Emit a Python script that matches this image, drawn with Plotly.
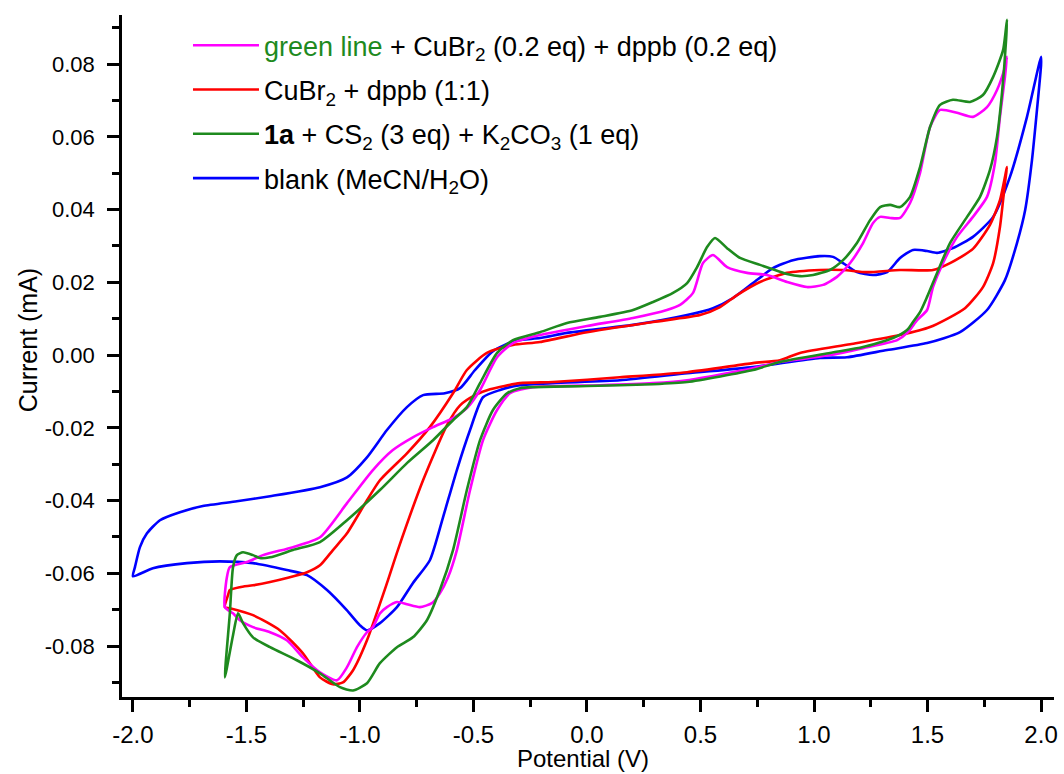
import plotly.graph_objects as go

# ---- data (Potential in V, Current in mA) ----
mix_v = [-1.595, -1.586, -1.573, -1.498, -1.427, -1.295, -1.176, -1.057, -0.943, -0.855, -0.767, -0.678, -0.590, -0.529, -0.471, -0.396, -0.326, -0.207, 0.000, 0.203, 0.352, 0.410, 0.467, 0.511, 0.555, 0.617, 0.705, 0.793, 0.881, 0.969, 1.040, 1.101, 1.159, 1.216, 1.260, 1.291, 1.335, 1.379, 1.423, 1.467, 1.511, 1.555, 1.630, 1.700, 1.762, 1.806, 1.841, 1.850,
         1.841, 1.819, 1.797, 1.762, 1.700, 1.630, 1.568, 1.524, 1.498, 1.454, 1.414, 1.366, 1.216, 1.070, 0.850, 0.731, 0.441, 0.291, 0.057, -0.238, -0.339, -0.396, -0.458, -0.515, -0.573, -0.612, -0.648, -0.683, -0.736, -0.793, -0.837, -0.881, -0.912, -0.943, -0.969, -1.013, -1.057, -1.101, -1.176, -1.251, -1.322, -1.396, -1.471, -1.529, -1.559, -1.595]
mix_i = [-0.0693, -0.0611, -0.0583, -0.0569, -0.0550, -0.0528, -0.0501, -0.0407, -0.0316, -0.0261, -0.0226, -0.0198, -0.0173, -0.0146, -0.0096, -0.0006, 0.0033, 0.0055, 0.0080, 0.0102, 0.0124, 0.0138, 0.0171, 0.0253, 0.0275, 0.0242, 0.0226, 0.0220, 0.0201, 0.0187, 0.0193, 0.0215, 0.0253, 0.0308, 0.0363, 0.0380, 0.0377, 0.0377, 0.0418, 0.0501, 0.0627, 0.0674, 0.0666, 0.0655, 0.0682, 0.0729, 0.0792, 0.0820,
         0.0765, 0.0655, 0.0528, 0.0435, 0.0380, 0.0325, 0.0253, 0.0187, 0.0124, 0.0096, 0.0063, 0.0041, 0.0019, 0.0000, -0.0019, -0.0036, -0.0069, -0.0077, -0.0083, -0.0088, -0.0105, -0.0151, -0.0234, -0.0371, -0.0536, -0.0611, -0.0655, -0.0682, -0.0693, -0.0685, -0.0679, -0.0693, -0.0710, -0.0748, -0.0762, -0.0803, -0.0858, -0.0894, -0.0872, -0.0831, -0.0784, -0.0762, -0.0748, -0.0729, -0.0710, -0.0693]

cu_v = [-1.595, -1.581, -1.573, -1.529, -1.471, -1.396, -1.322, -1.233, -1.176, -1.119, -1.057, -0.969, -0.912, -0.793, -0.692, -0.590, -0.529, -0.441, -0.326, -0.207, 0.000, 0.291, 0.498, 0.586, 0.661, 0.762, 0.881, 1.026, 1.128, 1.233, 1.379, 1.524, 1.599, 1.700, 1.775, 1.819, 1.850,
        1.841, 1.819, 1.789, 1.744, 1.665, 1.511, 1.379, 1.159, 0.938, 0.850, 0.731, 0.441, 0.145, -0.150, -0.295, -0.427, -0.493, -0.559, -0.617, -0.722, -0.833, -0.881, -0.969, -1.031, -1.075, -1.119, -1.176, -1.251, -1.352, -1.471, -1.573, -1.595]
cu_i = [-0.0693, -0.0660, -0.0646, -0.0638, -0.0633, -0.0624, -0.0613, -0.0597, -0.0578, -0.0536, -0.0490, -0.0399, -0.0344, -0.0270, -0.0198, -0.0105, -0.0041, 0.0006, 0.0028, 0.0036, 0.0063, 0.0091, 0.0110, 0.0132, 0.0165, 0.0201, 0.0226, 0.0234, 0.0234, 0.0228, 0.0234, 0.0234, 0.0253, 0.0292, 0.0358, 0.0426, 0.0517,
        0.0473, 0.0352, 0.0253, 0.0187, 0.0129, 0.0077, 0.0055, 0.0030, 0.0006, -0.0014, -0.0022, -0.0047, -0.0061, -0.0074, -0.0077, -0.0094, -0.0110, -0.0138, -0.0193, -0.0344, -0.0536, -0.0627, -0.0784, -0.0867, -0.0900, -0.0905, -0.0886, -0.0820, -0.0757, -0.0715, -0.0696, -0.0693]

sub_v = [-1.595, -1.573, -1.559, -1.542, -1.515, -1.471, -1.441, -1.396, -1.295, -1.176, -1.057, -0.912, -0.793, -0.678, -0.590, -0.529, -0.471, -0.396, -0.326, -0.207, -0.088, 0.057, 0.203, 0.291, 0.379, 0.441, 0.485, 0.529, 0.564, 0.617, 0.674, 0.762, 0.881, 0.938, 0.996, 1.070, 1.128, 1.189, 1.247, 1.291, 1.335, 1.379, 1.423, 1.467, 1.511, 1.555, 1.612, 1.687, 1.744, 1.789, 1.833, 1.850,
         1.846, 1.828, 1.806, 1.775, 1.731, 1.674, 1.599, 1.542, 1.498, 1.467, 1.436, 1.410, 1.348, 1.216, 1.070, 0.850, 0.731, 0.441, 0.291, 0.000, -0.238, -0.295, -0.352, -0.414, -0.471, -0.529, -0.590, -0.648, -0.705, -0.767, -0.837, -0.912, -0.969, -1.031, -1.088, -1.176, -1.278, -1.396, -1.471, -1.515, -1.537, -1.559, -1.595]
sub_i = [-0.0886, -0.0710, -0.0583, -0.0550, -0.0542, -0.0550, -0.0558, -0.0556, -0.0536, -0.0514, -0.0454, -0.0371, -0.0297, -0.0234, -0.0179, -0.0143, -0.0077, 0.0006, 0.0041, 0.0063, 0.0088, 0.0105, 0.0124, 0.0146, 0.0171, 0.0198, 0.0242, 0.0297, 0.0322, 0.0294, 0.0267, 0.0248, 0.0223, 0.0217, 0.0220, 0.0234, 0.0261, 0.0308, 0.0371, 0.0407, 0.0413, 0.0407, 0.0435, 0.0517, 0.0627, 0.0688, 0.0702, 0.0696, 0.0715, 0.0765, 0.0839, 0.0922,
         0.0867, 0.0721, 0.0600, 0.0509, 0.0435, 0.0380, 0.0308, 0.0226, 0.0160, 0.0118, 0.0091, 0.0069, 0.0047, 0.0022, 0.0006, -0.0019, -0.0041, -0.0074, -0.0080, -0.0085, -0.0088, -0.0091, -0.0105, -0.0151, -0.0234, -0.0371, -0.0536, -0.0646, -0.0729, -0.0776, -0.0803, -0.0847, -0.0902, -0.0922, -0.0913, -0.0875, -0.0839, -0.0803, -0.0776, -0.0737, -0.0710, -0.0770, -0.0886]

blank_v = [-2.000, -1.991, -1.969, -1.938, -1.881, -1.793, -1.692, -1.542, -1.396, -1.176, -1.057, -0.969, -0.881, -0.793, -0.722, -0.626, -0.559, -0.493, -0.414, -0.317, -0.207, -0.088, 0.203, 0.441, 0.555, 0.643, 0.731, 0.819, 0.907, 1.026, 1.084, 1.128, 1.189, 1.260, 1.322, 1.379, 1.436, 1.498, 1.542, 1.612, 1.700, 1.789, 1.863, 1.938, 2.000,
           2.000, 1.982, 1.960, 1.930, 1.894, 1.841, 1.762, 1.643, 1.498, 1.322, 1.145, 1.026, 0.731, 0.441, 0.145, -0.150, -0.295, -0.383, -0.458, -0.515, -0.573, -0.634, -0.692, -0.767, -0.837, -0.912, -0.969, -1.000, -1.057, -1.145, -1.233, -1.322, -1.471, -1.617, -1.762, -1.912, -2.000]
blank_i = [-0.0608, -0.0583, -0.0528, -0.0490, -0.0454, -0.0432, -0.0415, -0.0402, -0.0388, -0.0363, -0.0336, -0.0281, -0.0206, -0.0143, -0.0110, -0.0105, -0.0091, -0.0041, 0.0011, 0.0039, 0.0047, 0.0061, 0.0083, 0.0110, 0.0129, 0.0157, 0.0198, 0.0239, 0.0261, 0.0272, 0.0270, 0.0253, 0.0228, 0.0220, 0.0228, 0.0267, 0.0289, 0.0286, 0.0281, 0.0294, 0.0325, 0.0380, 0.0490, 0.0655, 0.0820,
           0.0798, 0.0674, 0.0536, 0.0399, 0.0308, 0.0206, 0.0124, 0.0063, 0.0033, 0.0014, -0.0006, -0.0008, -0.0033, -0.0050, -0.0069, -0.0077, -0.0083, -0.0096, -0.0116, -0.0206, -0.0316, -0.0446, -0.0564, -0.0627, -0.0693, -0.0737, -0.0757, -0.0743, -0.0702, -0.0646, -0.0605, -0.0591, -0.0572, -0.0567, -0.0572, -0.0586, -0.0608]

x_tick_vals = [-2.0, -1.5, -1.0, -0.5, 0.0, 0.5, 1.0, 1.5, 2.0]
x_tick_text = ["-2.0", "-1.5", "-1.0", "-0.5", "0.0", "0.5", "1.0", "1.5", "2.0"]
y_tick_vals = [-0.08, -0.06, -0.04, -0.02, 0.0, 0.02, 0.04, 0.06, 0.08]
y_tick_text = ["-0.08", "-0.06", "-0.04", "-0.02", "0.00", "0.02", "0.04", "0.06", "0.08"]

names = [
    '<span style="color:#1E8A1E">green line</span> + CuBr<sub>2</sub> (0.2 eq) + dppb (0.2 eq)',
    'CuBr<sub>2</sub> + dppb (1:1)',
    '<b>1a</b> + CS<sub>2</sub> (3 eq) + K<sub>2</sub>CO<sub>3</sub> (1 eq)',
    'blank (MeCN/H<sub>2</sub>O)',
]
colors = ['#FF00FF', '#FF0000', '#1E8A1E', '#0000FF']
series = [(mix_v, mix_i), (cu_v, cu_i), (sub_v, sub_i), (blank_v, blank_i)]

fig = go.Figure()
draw_order = [3, 1, 0, 2]
for k in draw_order:
    v, i = series[k]
    fig.add_trace(go.Scatter(
        x=v, y=i, mode='lines', name=names[k],
        legendgroup='g%d' % k, legendrank=k + 1,
        line=dict(color=colors[k], width=2.6, shape='spline', smoothing=0.6),
    ))

font_family = "Liberation Sans, Arial, sans-serif"
fig.update_layout(
    width=1064, height=774,
    margin=dict(l=122, r=10, t=15, b=77, autoexpand=False),
    paper_bgcolor='white', plot_bgcolor='white',
    font=dict(family=font_family, size=22, color='black'),
    showlegend=True,
    legend=dict(x=0.0708, y=0.991, xanchor='left', yanchor='top',
                bgcolor='rgba(0,0,0,0)', font=dict(size=27, family=font_family),
                itemwidth=66, tracegroupgap=6.2, traceorder='grouped'),
    xaxis=dict(
        range=[-2.048, 2.057], showline=True, linecolor='black', linewidth=2.5,
        mirror=False, showgrid=False, zeroline=False, automargin=False,
        ticks='outside', ticklen=12, tickwidth=2.5, tickcolor='black',
        tickvals=x_tick_vals, ticktext=x_tick_text,
        tickfont=dict(size=24), ticklabelstandoff=2,
        minor=dict(tickmode='linear', tick0=0, dtick=0.25, ticks='outside', ticklen=7, tickwidth=2.5, tickcolor='black'),
    ),
    yaxis=dict(
        range=[-0.094, 0.0935], showline=True, linecolor='black', linewidth=2.5,
        mirror=False, showgrid=False, zeroline=False, automargin=False,
        ticks='outside', ticklen=12, tickwidth=2.5, tickcolor='black',
        tickvals=y_tick_vals, ticktext=y_tick_text,
        tickfont=dict(size=22), ticklabelstandoff=8,
        minor=dict(tickmode='linear', tick0=0, dtick=0.01, ticks='outside', ticklen=7, tickwidth=2.5, tickcolor='black'),
    ),
    annotations=[
        dict(text='Potential (V)', xref='paper', yref='paper', x=0.4946, y=-0.0909,
             xanchor='center', yanchor='middle', showarrow=False, font=dict(size=24)),
        dict(text='Current (mA)', xref='paper', yref='paper', x=-0.1009, y=0.523,
             xanchor='center', yanchor='middle', textangle=-90, showarrow=False, font=dict(size=25)),
    ],
)

fig.write_html("out.html")
